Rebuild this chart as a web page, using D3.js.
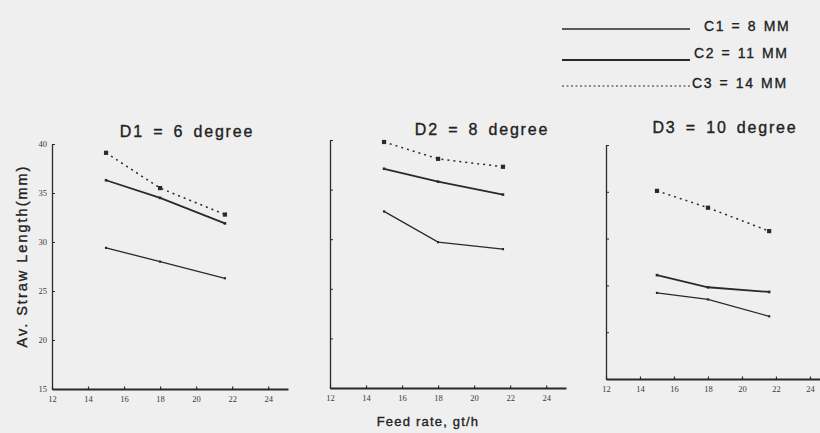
<!DOCTYPE html>
<html>
<head>
<meta charset="utf-8">
<script src="https://cdn.jsdelivr.net/npm/d3@7"></script>
<style>
  html, body { margin: 0; padding: 0; background: #efefef; }
  svg { display: block; }
  .tick text { font-family: "Liberation Serif", "DejaVu Serif", serif; font-size: 8.5px; fill: #3a3a3a; }
  .label { font-family: "Liberation Sans", Arial, sans-serif; fill: #222; stroke: #222; stroke-width: 0.35px; }
</style>
</head>
<body>
<svg id="chart" width="820" height="433"></svg>
<script>
// Feed rate (qt/h) at which each straw length was measured
const feedRates = [15, 18, 21.6];

// Panel titles (concave angle)
const panelTitles = ["D1 = 6 degree", "D2 = 8 degree", "D3 = 10 degree"];

// Series names (chopper clearance)
const seriesNames = ["C1 = 8 MM", "C2 = 11 MM", "C3 = 14 MM"];

// Average straw length (mm), one array per panel and series
const d1C1 = [29.4, 28.0, 26.3];
const d1C2 = [36.3, 34.5, 31.9];
const d1C3 = [39.1, 35.5, 32.8];

const d2C1 = [32.8, 29.7, 29.0];
const d2C2 = [37.1, 35.8, 34.5];
const d2C3 = [39.8, 38.1, 37.3];

const d3C1 = [24.2, 23.5, 21.7];
const d3C2 = [26.1, 24.8, 24.3];
const d3C3 = [35.1, 33.3, 30.8];

// Axis ticks
const xTicks = [12, 14, 16, 18, 20, 22, 24];
const yTicks = [15, 20, 25, 30, 35, 40];

const panelValues = [
  [d1C1, d1C2, d1C3],
  [d2C1, d2C2, d2C3],
  [d3C1, d3C2, d3C3]
];

// Plot frames for the three panels (pixel placement)
const frames = [
  { x0: 52,  x1: 288, xMax: 25.1, yTop: 144, yBot: 389, showY: true,  title: [187, 137] },
  { x0: 330, x1: 566, xMax: 25.1, yTop: 140, yBot: 388, showY: false, title: [482, 135] },
  { x0: 606, x1: 821, xMax: 24.65, yTop: 145, yBot: 379, showY: false, title: [725, 133] }
];

// Line style per series
const styles = [
  { width: 1.3, dash: null,  marker: 2.2 },
  { width: 1.8, dash: null,  marker: 2.6 },
  { width: 1.5, dash: "2,4", marker: 4.2 }
];

const ink = "#2a2a2a";
const svg = d3.select("#chart");

frames.forEach((f, i) => {
  const x = d3.scaleLinear().domain([12, f.xMax]).range([f.x0, f.x1]);
  const y = d3.scaleLinear().domain([15, 40]).range([f.yBot, f.yTop]);
  const g = svg.append("g");

  // x axis with inward ticks
  const xAxis = d3.axisBottom(x).tickValues(xTicks).tickSize(-2.5).tickSizeOuter(0).tickPadding(7);
  const gx = g.append("g").attr("transform", `translate(0,${f.yBot})`).call(xAxis);
  gx.select(".domain").attr("stroke", ink).attr("stroke-width", 2);
  gx.selectAll(".tick line").attr("stroke", ink).attr("stroke-width", 1.2);

  // y axis with inward ticks
  const yAxis = d3.axisLeft(y).tickValues(yTicks).tickSize(-3).tickSizeOuter(0).tickPadding(5);
  if (!f.showY) yAxis.tickFormat("");
  const gy = g.append("g").attr("transform", `translate(${f.x0},0)`).call(yAxis);
  gy.select(".domain").attr("stroke", ink).attr("stroke-width", 1.3);
  gy.selectAll(".tick line").attr("stroke", ink).attr("stroke-width", 1);

  // series lines
  const line = d3.line().x((d, k) => x(feedRates[k])).y(d => y(d));
  panelValues[i].forEach((vals, s) => {
    const st = styles[s];
    g.append("path")
      .datum(vals)
      .attr("d", line)
      .attr("fill", "none")
      .attr("stroke", ink)
      .attr("stroke-width", st.width)
      .attr("stroke-dasharray", st.dash);
    g.selectAll(null)
      .data(vals)
      .enter()
      .append("rect")
      .attr("x", (d, k) => x(feedRates[k]) - st.marker / 2)
      .attr("y", d => y(d) - st.marker / 2)
      .attr("width", st.marker)
      .attr("height", st.marker)
      .attr("fill", ink);
  });

  // panel title
  svg.append("text")
    .attr("class", "label")
    .attr("x", f.title[0])
    .attr("y", f.title[1])
    .attr("text-anchor", "middle")
    .attr("font-size", 16)
    .attr("letter-spacing", 1.8)
    .attr("word-spacing", 3)
    .text(panelTitles[i]);
});

// legend
const legendRows = [
  { y: 29, ty: 31, tx: 704 },
  { y: 60, ty: 58, tx: 694 },
  { y: 86, ty: 88, tx: 692 }
];
legendRows.forEach((r, s) => {
  const st = styles[s];
  svg.append("line")
    .attr("x1", 562).attr("x2", 690)
    .attr("y1", r.y).attr("y2", r.y)
    .attr("stroke", ink)
    .attr("stroke-width", s === 2 ? 1 : st.width)
    .attr("stroke-dasharray", s === 2 ? "2,2.5" : null);
  svg.append("text")
    .attr("class", "label")
    .attr("x", r.tx).attr("y", r.ty)
    .attr("font-size", 14)
    .attr("letter-spacing", 1.6)
    .attr("word-spacing", 1)
    .text(seriesNames[s]);
});

// axis titles
svg.append("text")
  .attr("class", "label")
  .attr("transform", "translate(27,256) rotate(-90)")
  .attr("text-anchor", "middle")
  .attr("font-size", 14.5)
  .attr("letter-spacing", 2)
  .text("Av. Straw Length(mm)");

svg.append("text")
  .attr("class", "label")
  .attr("x", 428).attr("y", 426)
  .attr("text-anchor", "middle")
  .attr("font-size", 13)
  .attr("letter-spacing", 1.2)
  .text("Feed rate, gt/h");
</script>
</body>
</html>
